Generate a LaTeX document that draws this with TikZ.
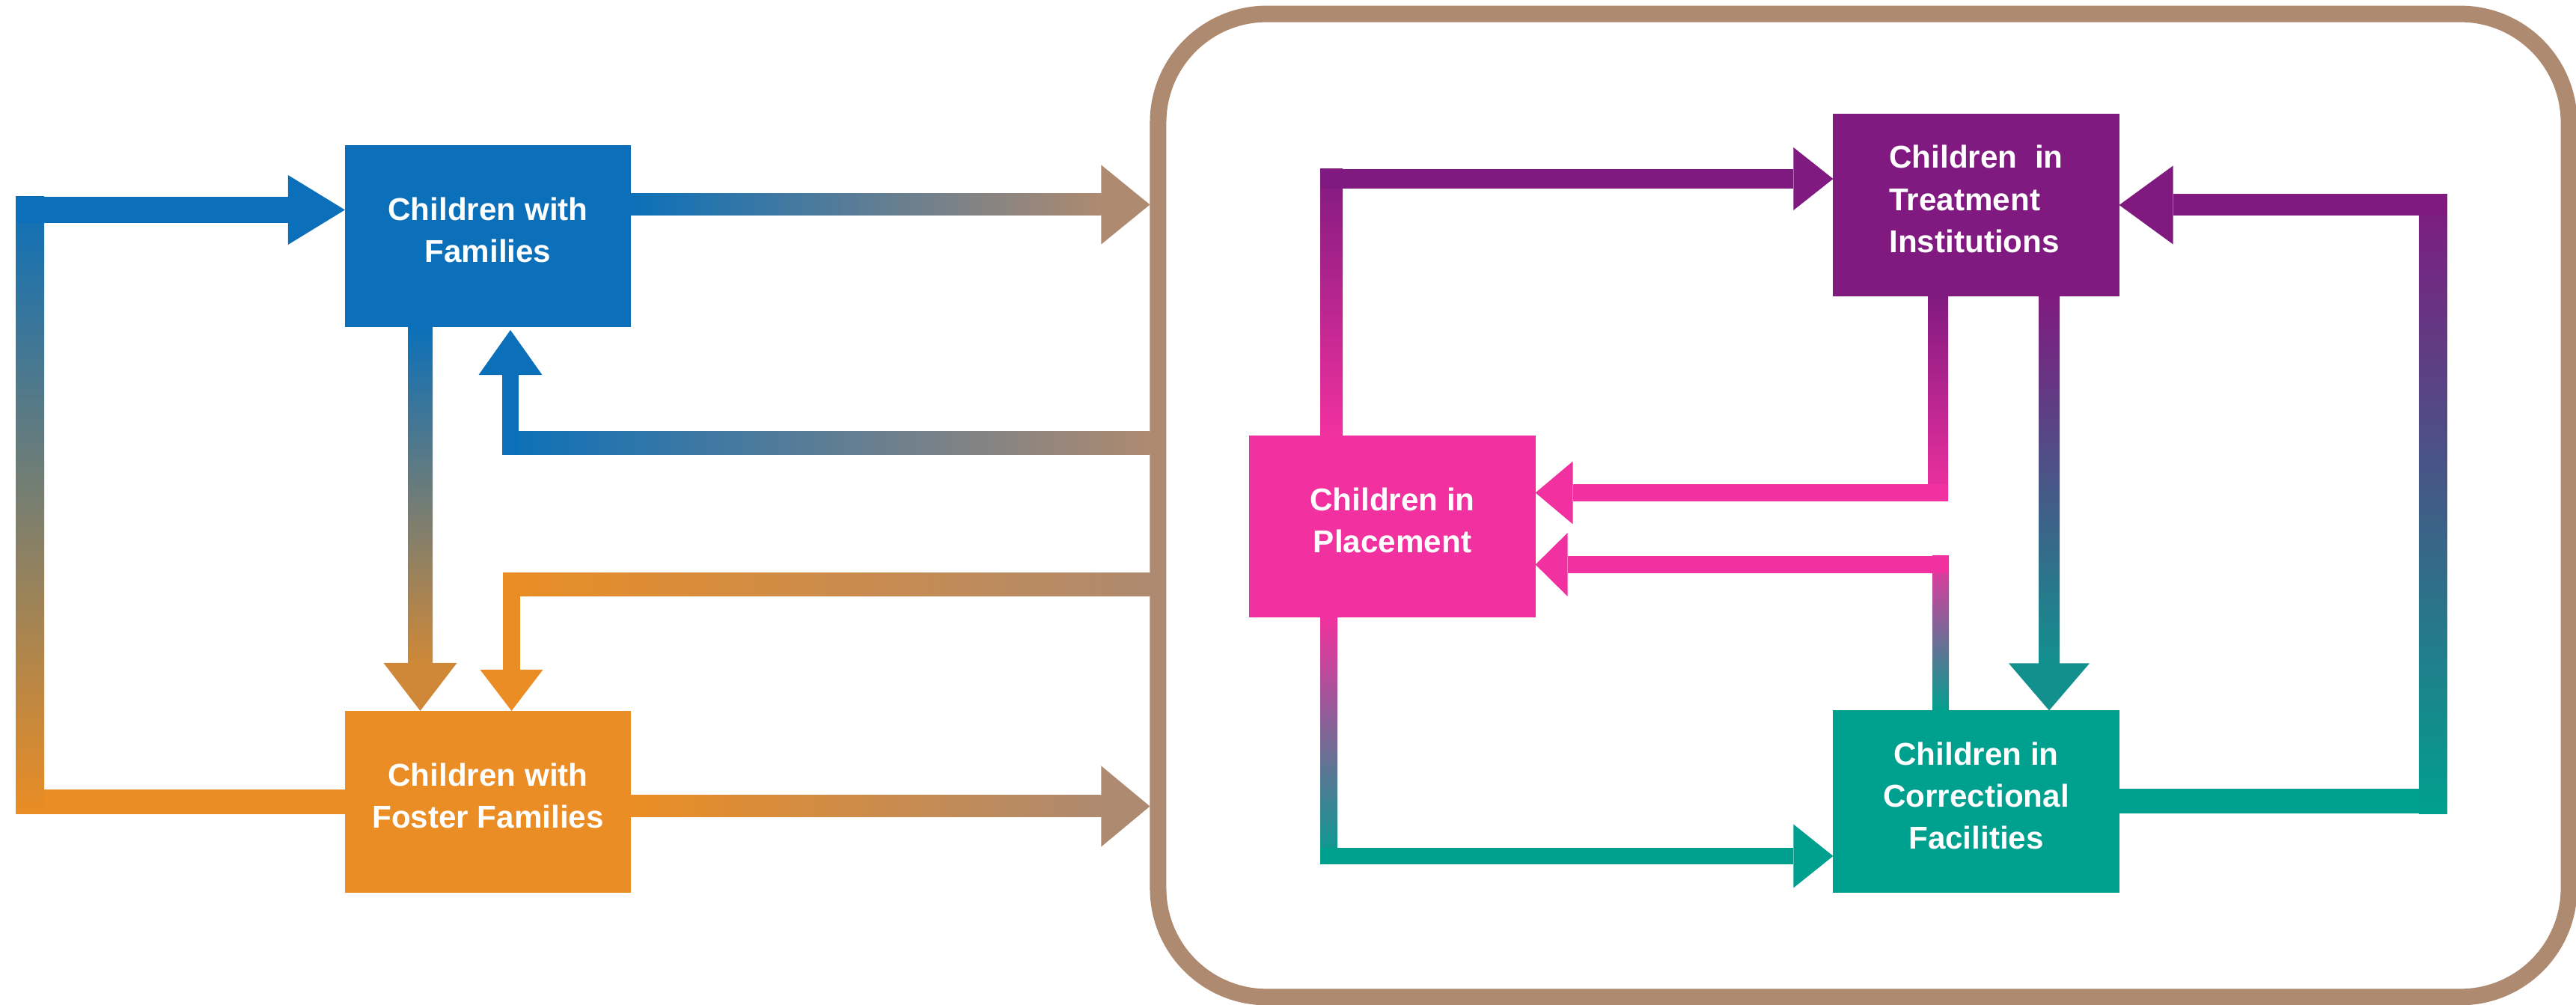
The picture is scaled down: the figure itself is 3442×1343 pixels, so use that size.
\documentclass[tikz,border=0pt]{standalone}
\usepackage{fontspec}
\setmainfont{Liberation Sans}
\usetikzlibrary{calc}

\definecolor{cblue}{HTML}{0B70B9}
\definecolor{corange}{HTML}{EA8D24}
\definecolor{cbrown}{HTML}{AE8A70}
\definecolor{cpurple}{HTML}{801A80}
\definecolor{cpink}{HTML}{F1319F}
\definecolor{cteal}{HTML}{00A08E}
\definecolor{cochre}{HTML}{CF8838}
\definecolor{cdeepteal}{HTML}{12908E}

% arrow heads: colour, tip coordinate, length, half width
\newcommand\arrR[4]{\fill[#1] (#2) -- ++(-#3,#4) -- ++(0,-2*#4) -- cycle;}
\newcommand\arrL[4]{\fill[#1] (#2) -- ++(#3,#4) -- ++(0,-2*#4) -- cycle;}
\newcommand\arrU[4]{\fill[#1] (#2) -- ++(-#4,-#3) -- ++(2*#4,0) -- cycle;}
\newcommand\arrD[4]{\fill[#1] (#2) -- ++(-#4,#3) -- ++(2*#4,0) -- cycle;}
% extra depth under the last line so the text sits a little high in its box
\newcommand\padbot{\rule[-0.16cm]{0pt}{0pt}}

\begin{document}
\begin{tikzpicture}[x=0.01cm,y=0.01cm,
  stage/.style={fill=#1, text=white, font=\fontsize{12}{16}\selectfont\bfseries,
    minimum width=3.82cm, minimum height=2.43cm, inner sep=0pt, outer sep=0pt,
    align=center}]
\useasboundingbox (0,0) rectangle (3442,1343);

% system boundary
\node[draw=cbrown, line width=0.22cm, rounded corners=1.45cm,
      minimum width=18.84cm, minimum height=13.13cm, inner sep=0pt] (sys) at (2490,667.5) {};

% boxes
\node[stage=cblue]   (fam) at (652,1027.5)  {Children with\\Families\padbot};
\node[stage=corange] (fos) at (652,271.5)   {Children with\\Foster Families\padbot};
\node[stage=cpurple, align=left] (tre) at (2640.5,1069) {Children~~in\\Treatment\\Institutions\padbot};
\node[stage=cpink]   (pla) at (1860.5,639.5) {Children in\\Placement\padbot};
\node[stage=cteal]   (cor) at (2640.5,272)  {Children in\\Correctional\\Facilities\padbot};

% Foster Families -> Families, round the left side
\coordinate (lane1) at (40,0);
\coordinate (c1tip) at ($(fam.west)+(0,35)$);
\coordinate (c1top) at (c1tip -| lane1);
\coordinate (c1bot) at (fos.west -| lane1);
\fill[corange] ($(c1bot)+(-19,16.5)$) rectangle ($(fos.west)+(0,-16.5)$);
\shade[top color=cblue,bottom color=corange] ($(c1top)+(-19,17.5)$) rectangle ($(c1bot)+(19,-16.5)$);
\fill[cblue] ($(c1top)+(-19,17.5)$) rectangle ($(c1tip)+(-76,-17.5)$);
\arrR{cblue}{c1tip}{76}{46.5}

% Families -> system
\coordinate (c2s) at ($(fam.east)+(0,42)$);
\coordinate (c2tip) at (c2s -| sys.west);
\shade[left color=cblue,right color=cbrown] ($(c2s)+(0,14.5)$) rectangle ($(c2tip)+(-65,-14.5)$);
\arrR{cbrown}{c2tip}{65}{53}

% Foster Families -> system
\coordinate (c3s) at ($(fos.east)+(0,-6)$);
\coordinate (c3tip) at (c3s -| sys.west);
\shade[left color=corange,right color=cbrown] ($(c3s)+(0,14.5)$) rectangle ($(c3tip)+(-65,-14.5)$);
\arrR{cbrown}{c3tip}{65}{54}

% system -> Families
\coordinate (c4tip) at ($(fam.south)+(30,-4)$);
\coordinate (c4bend) at ($(c4tip)+(0,-150.5)$);
\coordinate (c4s) at (c4bend -| sys.west);
\shade[left color=cblue,right color=cbrown] ($(c4bend)+(-11,15.5)$) rectangle ($(c4s)+(0,-15.5)$);
\fill[cblue] ($(c4bend)+(-11,-15.5)$) rectangle ($(c4tip)+(11,-60)$);
\arrU{cblue}{c4tip}{60}{42.5}

% system -> Foster Families
\coordinate (c5tip) at ($(fos.north)+(31.5,0)$);
\coordinate (c5bend) at ($(c5tip)+(0,168.5)$);
\coordinate (c5s) at (c5bend -| sys.west);
\shade[left color=corange,right color=cbrown] ($(c5bend)+(-11.5,15.5)$) rectangle ($(c5s)+(0,-15.5)$);
\fill[corange] ($(c5bend)+(-11.5,15.5)$) rectangle ($(c5tip)+(11.5,55)$);
\arrD{corange}{c5tip}{55}{42}

% Families -> Foster Families
\coordinate (c6s) at ($(fam.south)+(-90.5,0)$);
\coordinate (c6tip) at (c6s |- fos.north);
\shade[top color=cblue,bottom color=cochre] ($(c6s)+(-16.5,0)$) rectangle ($(c6tip)+(16.5,64)$);
\arrD{cochre}{c6tip}{64}{49}

% Placement -> Treatment
\coordinate (c7tip) at ($(tre.west)+(0,35)$);
\coordinate (c7s) at ($(pla.north)+(-81.5,0)$);
\coordinate (c7bend) at (c7s |- c7tip);
\shade[top color=cpurple,bottom color=cpink] ($(c7bend)+(-15,13)$) rectangle ($(c7s)+(15,0)$);
\fill[cpurple] ($(c7bend)+(-15,13)$) rectangle ($(c7tip)+(-53,-13)$);
\arrR{cpurple}{c7tip}{53}{42}

% Treatment -> Placement
\coordinate (c8s) at ($(tre.south)+(-51,0)$);
\coordinate (c8tip) at ($(pla.east)+(0,45)$);
\coordinate (c8bend) at (c8s |- c8tip);
\shade[top color=cpurple,bottom color=cpink] ($(c8s)+(-13.5,0)$) rectangle ($(c8bend)+(13.5,-11.5)$);
\fill[cpink] ($(c8bend)+(13.5,11.5)$) rectangle ($(c8tip)+(50,-11.5)$);
\arrL{cpink}{c8tip}{50}{42}

% Treatment -> Correctional
\coordinate (c9s) at ($(tre.south)+(97.5,0)$);
\coordinate (c9tip) at (c9s |- cor.north);
\shade[top color=cpurple,bottom color=cdeepteal] ($(c9s)+(-14,0)$) rectangle ($(c9tip)+(14,63)$);
\arrD{cdeepteal}{c9tip}{63}{54}

% Correctional -> Placement
\coordinate (c10s) at ($(cor.north)+(-47.5,0)$);
\coordinate (c10tip) at ($(pla.east)+(0,-51)$);
\coordinate (c10bend) at (c10s |- c10tip);
\shade[top color=cpink,bottom color=cteal] ($(c10bend)+(-11,11.5)$) rectangle ($(c10s)+(11,0)$);
\fill[cpink] ($(c10bend)+(11,11.5)$) rectangle ($(c10tip)+(43,-11.5)$);
\arrL{cpink}{c10tip}{43}{42.5}

% Placement -> Correctional
\coordinate (c11s) at ($(pla.south)+(-85,0)$);
\coordinate (c11tip) at ($(cor.west)+(0,-73)$);
\coordinate (c11bend) at (c11s |- c11tip);
\shade[top color=cpink,bottom color=cteal] ($(c11s)+(-11.5,0)$) rectangle ($(c11bend)+(11.5,-11)$);
\fill[cteal] ($(c11bend)+(-11.5,11)$) rectangle ($(c11tip)+(-53,-11)$);
\arrR{cteal}{c11tip}{53}{42.5}

% Correctional -> Treatment, round the right side
\coordinate (lane2) at (3251,0);
\coordinate (c12tip) at (tre.east);
\coordinate (c12top) at (c12tip -| lane2);
\coordinate (c12bot) at (cor.east -| lane2);
\fill[cteal] ($(cor.east)+(0,16.5)$) rectangle ($(c12bot)+(19,-16.5)$);
\shade[top color=cpurple,bottom color=cteal] ($(c12top)+(-19,14.5)$) rectangle ($(c12bot)+(19,-16.5)$);
\fill[cpurple] ($(c12top)+(19,14.5)$) rectangle ($(c12tip)+(72,-14.5)$);
\arrL{cpurple}{c12tip}{72}{52.5}
\end{tikzpicture}
\end{document}
